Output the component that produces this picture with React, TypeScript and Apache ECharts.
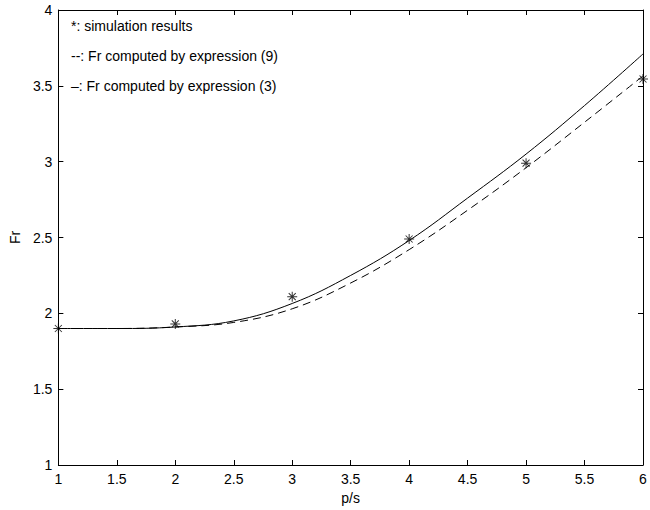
import React, { useEffect, useRef } from "react";
import * as echarts from "echarts";

const xValues = [1, 1.5, 2, 2.5, 3, 3.5, 4, 4.5, 5, 5.5, 6];
const expr3Values = [1.9, 1.9, 1.91, 1.95, 2.065, 2.25, 2.48, 2.76, 3.05, 3.37, 3.71];
const expr9Values = [1.9, 1.9, 1.91, 1.94, 2.03, 2.2, 2.42, 2.68, 2.96, 3.26, 3.565];
const simX = [1, 2, 3, 4, 5, 6];
const simValues = [1.9, 1.93, 2.11, 2.49, 2.99, 3.545];
const legendLines = [
  "*: simulation results",
  "--: Fr computed by expression (9)",
  "\u2013: Fr computed by expression (3)",
];

const FONT = "Liberation Sans, Arial, Helvetica, sans-serif";

const starPath =
  "path://M-0.5,-5 L0.5,-5 L0.5,5 L-0.5,5 Z " +
  "M-5,-0.5 L5,-0.5 L5,0.5 L-5,0.5 Z " +
  "M-3.15,-3.85 L3.85,3.15 L3.15,3.85 L-3.85,-3.15 Z " +
  "M3.15,-3.85 L3.85,-3.15 L-3.15,3.85 L-3.85,3.15 Z";

export default function App() {
  const ref = useRef<HTMLDivElement>(null);
  useEffect(() => {
    document.body.style.margin = "0";
    const chart = echarts.init(ref.current!, null, { renderer: "svg" });
    const axisLine = { show: true, lineStyle: { color: "#000", width: 1 } };
    const tick = { show: true, inside: true, length: 5, lineStyle: { color: "#000" } };
    chart.setOption({
      animation: false,
      backgroundColor: "#fff",
      grid: { left: 58, right: 7, top: 10, bottom: 40, containLabel: false },
      xAxis: [
        {
          type: "value",
          min: 1,
          max: 6,
          interval: 0.5,
          position: "bottom",
          axisLine,
          axisTick: tick,
          splitLine: { show: false },
          axisLabel: { color: "#000", fontSize: 14, fontFamily: FONT, margin: 7 },
          name: "p/s",
          nameLocation: "middle",
          nameGap: 26,
          nameTextStyle: { color: "#000", fontSize: 14, fontFamily: FONT },
        },
        {
          type: "value",
          min: 1,
          max: 6,
          interval: 0.5,
          position: "top",
          axisLine,
          axisTick: tick,
          splitLine: { show: false },
          axisLabel: { show: false },
        },
      ],
      yAxis: [
        {
          type: "value",
          min: 1,
          max: 4,
          interval: 0.5,
          position: "left",
          axisLine,
          axisTick: tick,
          splitLine: { show: false },
          axisLabel: { color: "#000", fontSize: 14, fontFamily: FONT, margin: 6 },
          name: "Fr",
          nameLocation: "middle",
          nameGap: 31,
          nameTextStyle: { color: "#000", fontSize: 14, fontFamily: FONT },
        },
        {
          type: "value",
          min: 1,
          max: 4,
          interval: 0.5,
          position: "right",
          axisLine,
          axisTick: tick,
          splitLine: { show: false },
          axisLabel: { show: false },
        },
      ],
      series: [
        {
          type: "line",
          data: xValues.map((x, i) => [x, expr3Values[i]]),
          smooth: 0.4,
          symbol: "none",
          lineStyle: { color: "#000", width: 1, type: "solid" },
        },
        {
          type: "line",
          data: xValues.map((x, i) => [x, expr9Values[i]]),
          smooth: 0.4,
          symbol: "none",
          lineStyle: { color: "#000", width: 1, type: [8, 5] },
        },
        {
          type: "scatter",
          data: simX.map((x, i) => [x, simValues[i]]),
          symbol: starPath,
          symbolSize: 10,
          symbolKeepAspect: true,
          itemStyle: { color: "#000" },
          clip: false,
        },
      ],
      graphic: legendLines.map((t, i) => ({
        type: "text",
        left: 71,
        top: 19 + i * 30,
        style: { text: t, fill: "#000", font: `14px ${FONT}` },
      })),
    });
    return () => chart.dispose();
  }, []);
  return <div ref={ref} style={{ width: 650, height: 510 }} />;
}
